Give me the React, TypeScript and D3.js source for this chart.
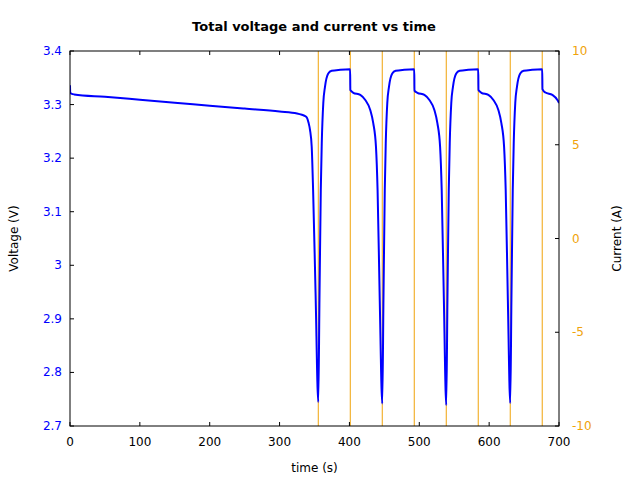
import React from "react";
import * as d3 from "d3";

const timeVals: number[] = [
  0, 0.3, 2, 6, 50, 100, 150, 200, 250, 300, 325, 332, 336, 339, 341.5, 343.6, 346, 348, 351.5, 355.4,
  357.1, 359.0, 360.4, 362.6, 365.0, 369.7, 374.6, 386.9, 401.0, 401.3, 405.5, 415.5, 422.7, 429.8, 434.1, 438.0, 440.3, 443.4, 447.0,
  448.7, 450.6, 452.0, 454.2, 456.6, 461.3, 466.2, 478.5, 492.8, 493.1, 497.3, 507.3, 514.5, 521.6, 525.9, 529.8, 532.1, 535.2, 538.6,
  540.3, 542.2, 543.6, 545.8, 548.2, 552.9, 557.8, 570.1, 584.4, 584.7, 588.9, 598.9, 606.1, 613.2, 617.5, 621.4, 623.7, 626.8, 630.2,
  631.9, 633.8, 635.2, 637.4, 639.8, 644.5, 649.4, 661.7, 676.0, 676.3, 680.5, 690.5, 697.7, 700,
];
const voltageVals: number[] = [
  3.336, 3.322, 3.3205, 3.319, 3.3145, 3.309, 3.3035, 3.298, 3.2925, 3.287, 3.2835, 3.281, 3.279, 3.276, 3.266, 3.2525, 3.2214, 3.1405, 2.95, 2.745,
  2.935, 3.1405, 3.228, 3.303, 3.333, 3.358, 3.363, 3.365, 3.366, 3.327, 3.322, 3.318, 3.3085, 3.29, 3.2655, 3.221, 3.1405, 2.935, 2.742,
  2.935, 3.1405, 3.228, 3.303, 3.333, 3.358, 3.363, 3.365, 3.366, 3.326, 3.322, 3.318, 3.3085, 3.29, 3.2655, 3.221, 3.1405, 2.935, 2.739,
  2.935, 3.1405, 3.228, 3.303, 3.333, 3.358, 3.363, 3.365, 3.366, 3.327, 3.322, 3.318, 3.3085, 3.29, 3.2655, 3.221, 3.1405, 2.935, 2.743,
  2.935, 3.1405, 3.228, 3.303, 3.333, 3.358, 3.363, 3.365, 3.366, 3.329, 3.3225, 3.318, 3.3085, 3.303,
];

const currentTimes: number[] = [0, 355.4, 401.2, 447.0, 492.8, 538.6, 584.4, 630.2, 676.0, 700];
const currentVals: number[] = [-20, 20, -20, 20, -20, 20, -20, 20, -20, -20];

const xTicks: number[] = [0, 100, 200, 300, 400, 500, 600, 700];
const vTicks: number[] = [2.7, 2.8, 2.9, 3, 3.1, 3.2, 3.3, 3.4];
const cTicks: number[] = [-10, -5, 0, 5, 10];

const W = 640, H = 480;
const L = 70, R = 559, T = 51, B = 426;
const FONT = "DejaVu Sans, sans-serif";
const ORANGE = "#f0a30a";
const BLUE = "#0000ff";

export default function App() {
  const x = d3.scaleLinear().domain([0, 700]).range([L, R]);
  const yV = d3.scaleLinear().domain([2.7, 3.4]).range([B, T]);
  const yC = d3.scaleLinear().domain([-10, 10]).range([B, T]);

  const vData = timeVals.map((t, i) => [t, voltageVals[i]] as [number, number]);
  const cData = currentTimes.map((t, i) => [t, currentVals[i]] as [number, number]);

  const vLine = d3.line<[number, number]>().x(d => x(d[0])).y(d => yV(d[1])).curve(d3.curveMonotoneX);
  const cLine = d3.line<[number, number]>().x(d => x(d[0])).y(d => yC(d[1])).curve(d3.curveStepAfter);

  const fmtV = (v: number) => (Math.round(v * 10) / 10).toString();

  return (
    <svg width={W} height={H} style={{ position: "absolute", left: 0, top: 0, background: "#fff" }} fontFamily={FONT}>
      <defs>
        <clipPath id="plotclip">
          <rect x={L} y={T} width={R - L} height={B - T} />
        </clipPath>
      </defs>
      <rect x={0} y={0} width={W} height={H} fill="#fff" />
      <g clipPath="url(#plotclip)">
        <path d={cLine(cData) || ""} fill="none" stroke={ORANGE} strokeWidth={1} />
        <path d={vLine(vData) || ""} fill="none" stroke={BLUE} strokeWidth={2} strokeLinejoin="round" />
      </g>
      <rect x={L} y={T} width={R - L} height={B - T} fill="none" stroke="#000" strokeWidth={1} />
      {xTicks.map(t => (
        <g key={"x" + t}>
          <line x1={x(t)} x2={x(t)} y1={B} y2={B - 4} stroke="#000" />
          <line x1={x(t)} x2={x(t)} y1={T} y2={T + 4} stroke="#000" />
          <text x={x(t)} y={B + 20} textAnchor="middle" fontSize={12} fill="#000">{t}</text>
        </g>
      ))}
      {vTicks.map(v => (
        <g key={"v" + v}>
          <line x1={L} x2={L + 4} y1={yV(v)} y2={yV(v)} stroke="#000" />
          <text x={L - 8} y={yV(v) + 4} textAnchor="end" fontSize={12} fill={BLUE}>{fmtV(v)}</text>
        </g>
      ))}
      {cTicks.map(c => (
        <g key={"c" + c}>
          <line x1={R} x2={R - 4} y1={yC(c)} y2={yC(c)} stroke="#000" />
          <text x={R + 13} y={yC(c) + 4} textAnchor="start" fontSize={12} fill={ORANGE}>{c < 0 ? "-" + Math.abs(c) : String(c)}</text>
        </g>
      ))}
      <text x={(L + R) / 2} y={472} textAnchor="middle" fontSize={12} fill="#000">time (s)</text>
      <text transform={`translate(18,${(T + B) / 2}) rotate(-90)`} textAnchor="middle" fontSize={12} fill="#000">Voltage (V)</text>
      <text transform={`translate(621,${(T + B) / 2}) rotate(-90)`} textAnchor="middle" fontSize={12} fill="#000">Current (A)</text>
      <text x={314} y={31} textAnchor="middle" fontSize={13} fontWeight="bold" fill="#000">Total voltage and current vs time</text>
    </svg>
  );
}
